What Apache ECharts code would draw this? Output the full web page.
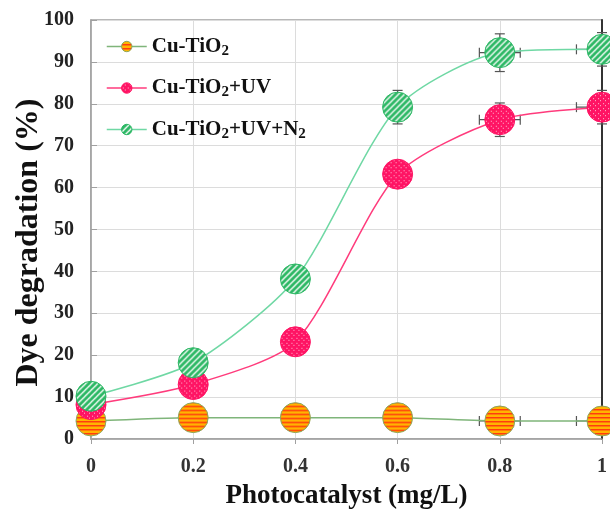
<!DOCTYPE html>
<html><head><meta charset="utf-8">
<script src="https://cdn.jsdelivr.net/npm/echarts@6/dist/echarts.min.js"></script>
<style>html,body{margin:0;padding:0;background:#fff}#c{width:610px;height:515px}</style>
</head><body><div id="c"></div>
<script>
const xValues = [0, 0.2, 0.4, 0.6, 0.8, 1];
const seriesNames = ['Cu-TiO2', 'Cu-TiO2+UV', 'Cu-TiO2+UV+N2'];
const cuTiO2 = [4.3, 5.1, 5.1, 5.1, 4.3, 4.3];
const cuTiO2UV = [8.2, 13.0, 23.2, 63.2, 76.2, 79.2];
const cuTiO2UVN2 = [10.2, 18.2, 38.2, 79.2, 92.2, 93.0];
// error bars: [x, y, yErr, xErr]
const errCu = [[0.6, 5.1, 0, 0.02], [0.8, 4.3, 0, 0.04], [1, 4.3, 0, 0.05]];
const errUV = [[0.6, 63.2, 1.5, 0], [0.8, 76.2, 4, 0.04], [1, 79.2, 4, 0.05]];
const errN2 = [[0.6, 79.2, 4, 0], [0.8, 92.2, 4.5, 0.04], [1, 93.0, 4, 0.05]];
const yTicks = [0, 10, 20, 30, 40, 50, 60, 70, 80, 90, 100];

const SYM = 30;

function tile(kind) {
  const c = document.createElement('canvas');
  if (kind === 'stripe') {
    c.width = 8; c.height = 4;
    const g = c.getContext('2d');
    g.fillStyle = '#ffb400'; g.fillRect(0, 0, 8, 4);
    g.fillStyle = '#ff3c10'; g.fillRect(0, 0, 8, 1);
    g.fillStyle = '#ff7a08'; g.fillRect(0, 1, 8, 1);
  } else if (kind === 'dots') {
    c.width = 5; c.height = 5;
    const g = c.getContext('2d');
    g.fillStyle = '#ff1464'; g.fillRect(0, 0, 5, 5);
    g.fillStyle = '#ffc0d6'; g.fillRect(1, 1, 1, 1); g.fillRect(3, 3, 1, 1);
  } else {
    c.width = 6; c.height = 6;
    const g = c.getContext('2d');
    g.fillStyle = '#2db865'; g.fillRect(0, 0, 6, 6);
    g.strokeStyle = '#ffffff'; g.lineWidth = 1.3;
    g.beginPath();
    g.moveTo(-1, 7); g.lineTo(7, -1);
    g.moveTo(-1, 1); g.lineTo(1, -1);
    g.moveTo(5, 7); g.lineTo(7, 5);
    g.stroke();
  }
  return c;
}
function pat(kind, s) {
  return { image: tile(kind), repeat: 'repeat', scaleX: s, scaleY: s };
}

const chart = echarts.init(document.getElementById('c'), null, { renderer: 'canvas' });
const font = '"Liberation Serif", "Times New Roman", serif';

function errSeries(data) {
  return {
    type: 'custom', z: 1, silent: true,
    data: data,
    renderItem: function (params, api) {
      const x = api.value(0), y = api.value(1), ye = api.value(2), xe = api.value(3);
      const children = [];
      const st = { stroke: '#555', lineWidth: 1.2 };
      if (ye > 0) {
        const a = api.coord([x, y - ye]), b = api.coord([x, y + ye]);
        children.push({ type: 'line', shape: { x1: a[0], y1: a[1], x2: b[0], y2: b[1] }, style: st });
        children.push({ type: 'line', shape: { x1: a[0] - 5, y1: a[1], x2: a[0] + 5, y2: a[1] }, style: st });
        children.push({ type: 'line', shape: { x1: b[0] - 5, y1: b[1], x2: b[0] + 5, y2: b[1] }, style: st });
      }
      if (xe > 0) {
        const a = api.coord([x - xe, y]), b = api.coord([x + xe, y]);
        children.push({ type: 'line', shape: { x1: a[0], y1: a[1], x2: b[0], y2: b[1] }, style: st });
        children.push({ type: 'line', shape: { x1: a[0], y1: a[1] - 5, x2: a[0], y2: a[1] + 5 }, style: st });
        children.push({ type: 'line', shape: { x1: b[0], y1: b[1] - 5, x2: b[0], y2: b[1] + 5 }, style: st });
      }
      return { type: 'group', children: children };
    }
  };
}

function lineSeries(name, vals, lineColor, kind, border) {
  return {
    name: name, type: 'line', z: 3,
    data: xValues.map((x, i) => [x, vals[i]]),
    smooth: 0.25,
    symbol: 'circle', symbolSize: SYM,
    lineStyle: { color: lineColor, width: 1.5 },
    itemStyle: { color: pat(kind, 2 / SYM), borderColor: border, borderWidth: 1 },
    emphasis: { disabled: true },
    clip: false
  };
}

const legendStyle = [
  { kind: 'stripe', line: '#7fb57a', border: '#8aa860' },
  { kind: 'dots', line: '#ff3b7c', border: '#ff1464' },
  { kind: 'diag', line: '#6fd8a4', border: '#2db865' }
];

chart.setOption({
  animation: false,
  backgroundColor: '#fff',
  grid: { left: 91, right: 8, top: 20, bottom: 76, show: true, borderColor: '#a0a0a0', borderWidth: 1.5,
    containLabel: false, outerBoundsMode: 'none' },
  legend: {
    orient: 'vertical', left: 101, top: 31, itemGap: 19,
    itemWidth: 40, itemHeight: 13,
    data: seriesNames.map((n, i) => ({
      name: n,
      itemStyle: { color: pat(legendStyle[i].kind, 1), borderColor: legendStyle[i].border, borderWidth: 1 },
      lineStyle: { color: legendStyle[i].line, width: 1.5 }
    })),
    formatter: function (n) {
      return n.replace(/O2/, 'O{s|2}').replace(/N2/, 'N{s|2}');
    },
    textStyle: {
      fontFamily: font, fontWeight: 'bold', fontSize: 21, color: '#111',
      rich: { s: { fontFamily: font, fontWeight: 'bold', fontSize: 15, color: '#111', padding: [9, 0, 0, 0] } }
    }
  },
  xAxis: [{
    type: 'value', min: 0, max: 1, interval: 0.2,
    name: 'Photocatalyst (mg/L)', nameLocation: 'middle', nameGap: 44, nameMoveOverlap: false,
    nameTextStyle: { fontFamily: font, fontWeight: 'bold', fontSize: 27, color: '#111' },
    axisLine: { lineStyle: { color: '#a0a0a0', width: 1.5 } },
    axisTick: { show: true, length: 5, lineStyle: { color: '#a0a0a0' } },
    axisLabel: { fontFamily: font, fontWeight: 'bold', fontSize: 20, color: '#333', margin: 18,
      formatter: v => String(+v.toFixed(1)) },
    splitLine: { lineStyle: { color: '#dcdcdc', width: 1 } }
  }],
  yAxis: [{
    type: 'value', min: yTicks[0], max: yTicks[yTicks.length - 1], interval: 10,
    name: 'Dye degradation (%)', nameLocation: 'middle', nameGap: 46, nameMoveOverlap: false,
    nameTextStyle: { fontFamily: font, fontWeight: 'bold', fontSize: 32, color: '#111', padding: [0, 26, 0, 0] },
    axisLine: { show: true, lineStyle: { color: '#a0a0a0', width: 1.5 } },
    axisTick: { show: true, inside: true, length: 6, lineStyle: { color: '#a0a0a0' } },
    axisLabel: { fontFamily: font, fontWeight: 'bold', fontSize: 20, color: '#222', margin: 17 },
    splitLine: { lineStyle: { color: '#dcdcdc', width: 1 } }
  }, {
    type: 'value', min: 0, max: 100, position: 'right',
    axisLine: { show: true, lineStyle: { color: '#333', width: 2 } },
    axisTick: { show: false }, axisLabel: { show: false }, splitLine: { show: false }
  }],
  series: [
    errSeries(errCu), errSeries(errUV), errSeries(errN2),
    lineSeries(seriesNames[0], cuTiO2, '#7fb57a', 'stripe', '#8aa860'),
    lineSeries(seriesNames[1], cuTiO2UV, '#ff3b7c', 'dots', '#ff1464'),
    lineSeries(seriesNames[2], cuTiO2UVN2, '#6fd8a4', 'diag', '#2db865')
  ]
});
</script></body></html>
